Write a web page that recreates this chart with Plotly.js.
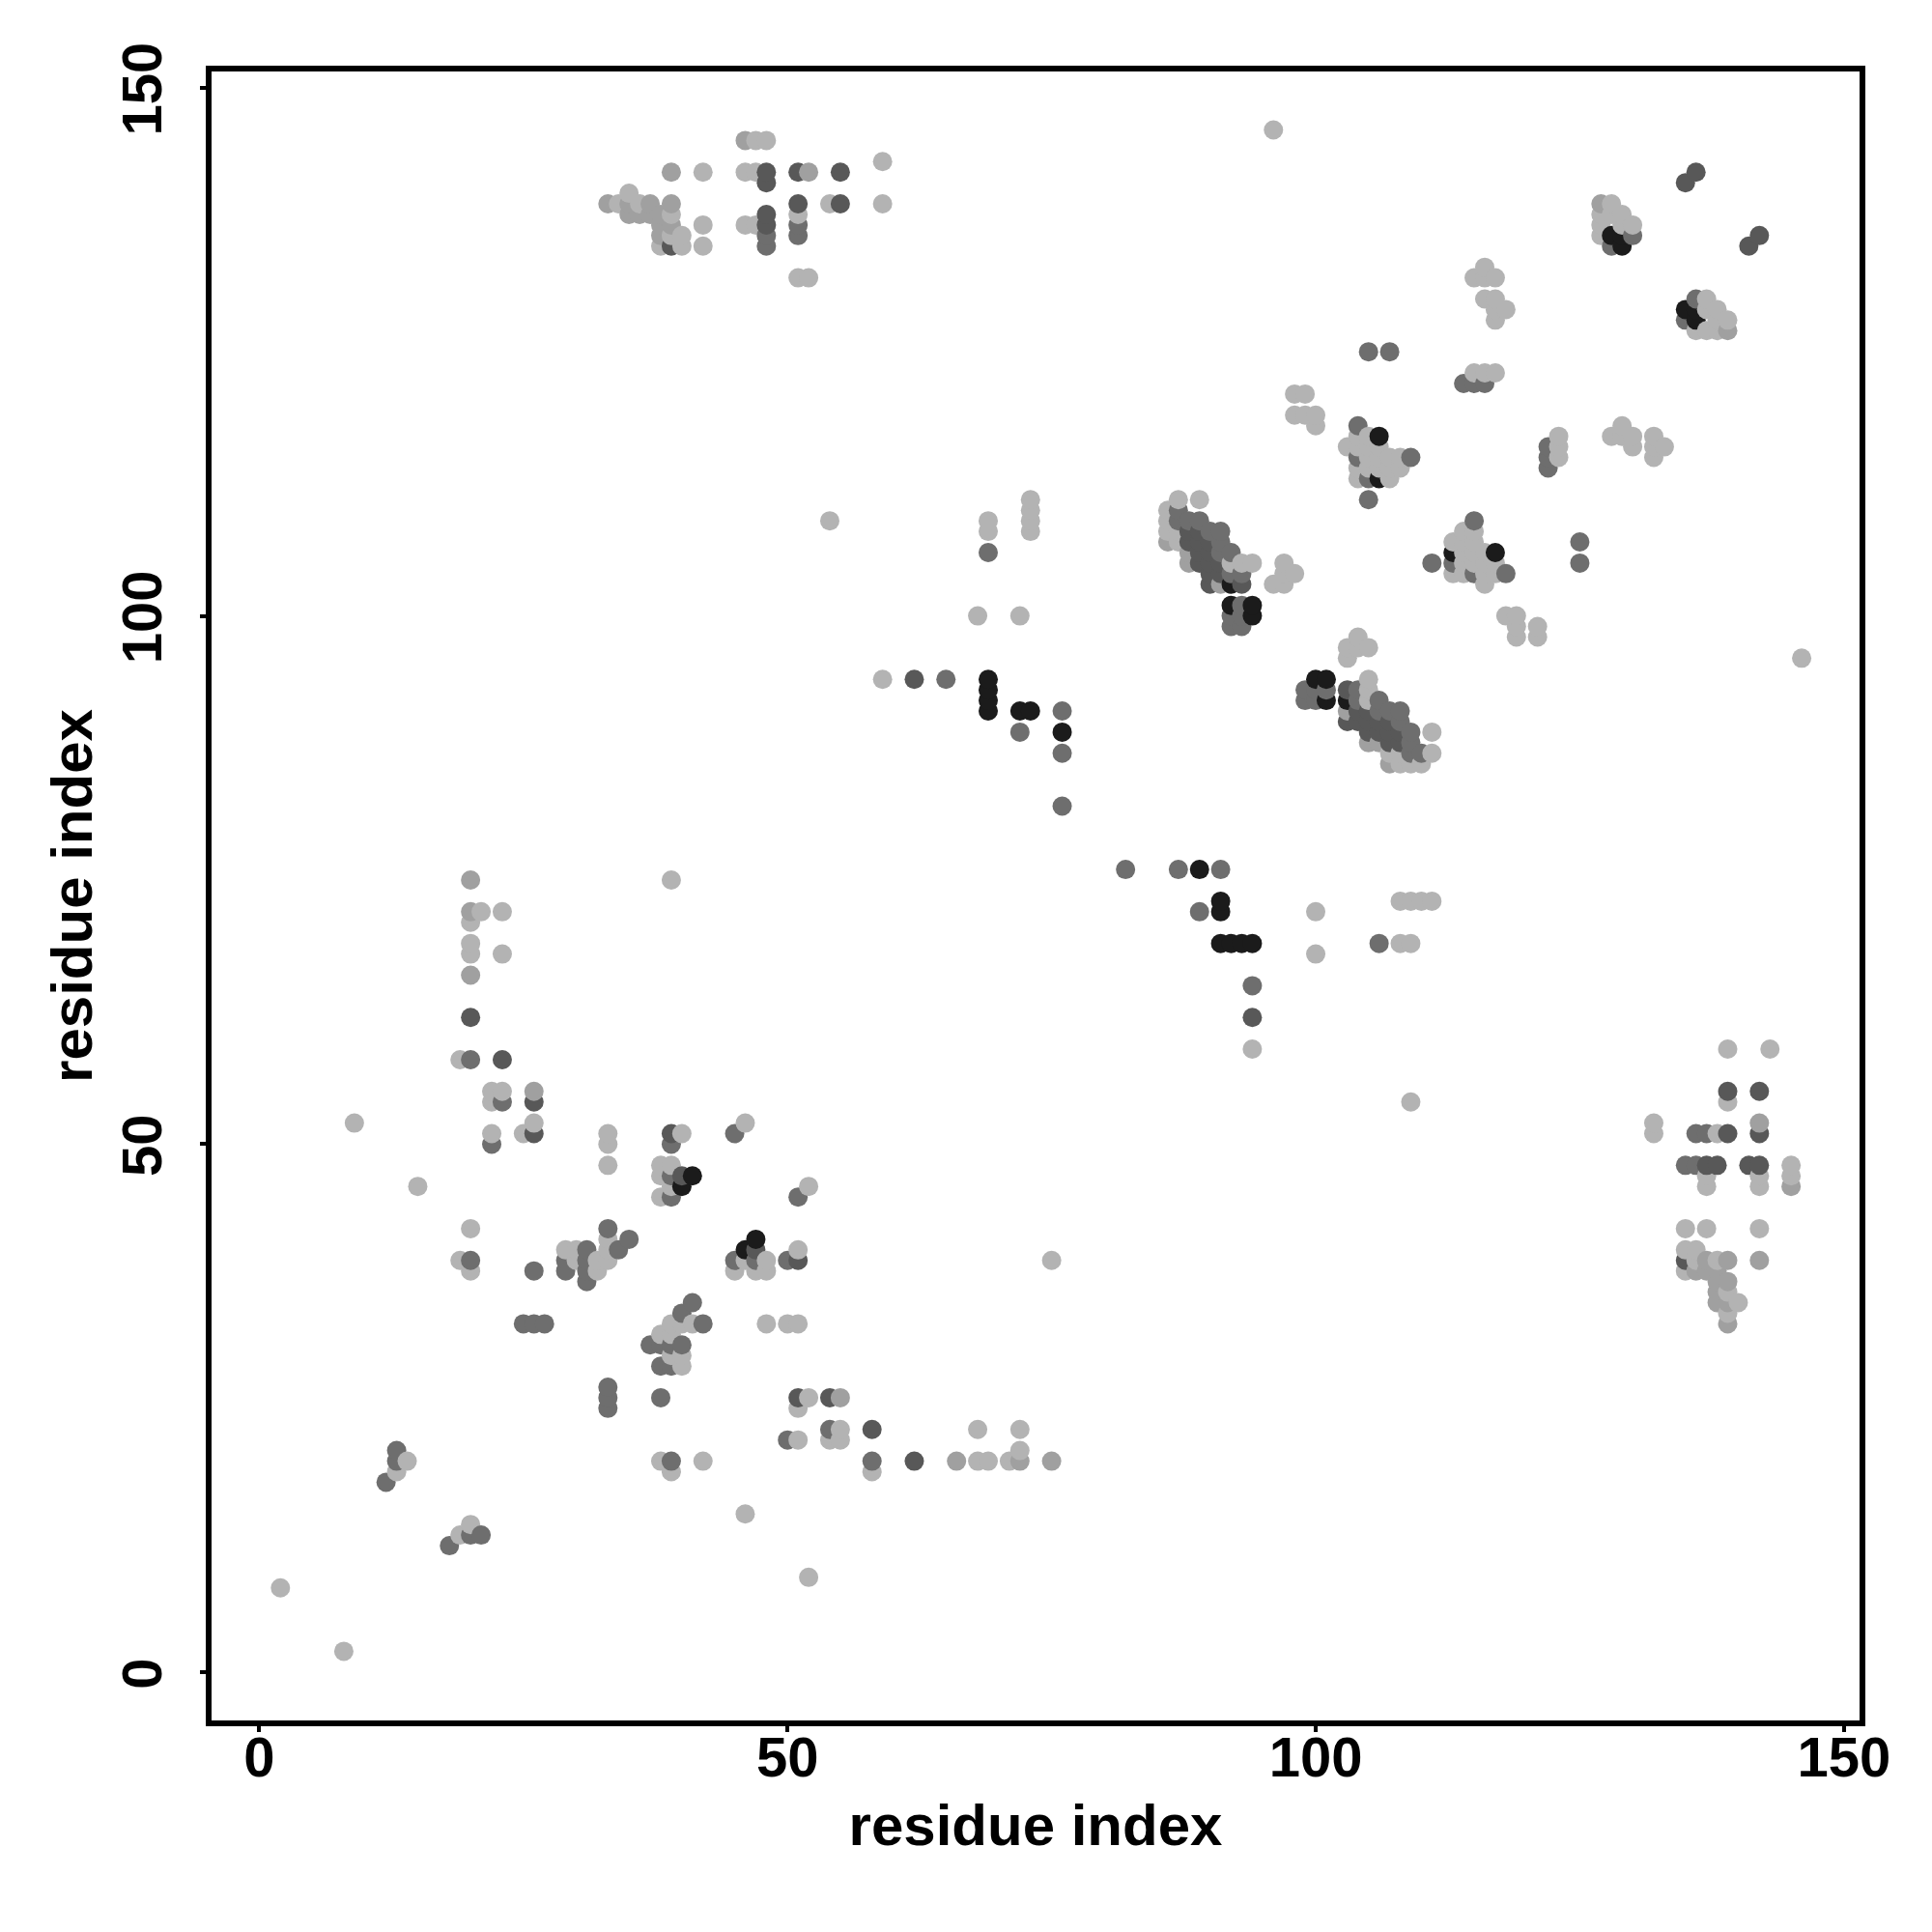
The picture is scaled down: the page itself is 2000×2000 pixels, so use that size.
<!DOCTYPE html>
<html>
<head>
<meta charset="utf-8">
<script src="https://cdn.plot.ly/plotly-3.0.1.min.js"></script>
<style>html,body{margin:0;padding:0;background:#fff}</style>
</head>
<body>
<div id="chart" style="width:2000px;height:2000px"></div>
<script>
// Contact map: residue pairs (i<j), grouped by grey level.
const light_i = [2,9,15,96,54,39,13,14,26,25,22,22,22,23,19,20,20,23,20,21,23,19,20,20,33,33,33,38,39,38,39,38,46,40,29,30,30,32,32,33,33,33,68,72,69,69,73,73,73,73,59,59,59,42,46,47,47,48,35,34,36,39,39,40,38,40,42,42,46,47,51,54,51,52,127,127,127,128,128,129,129,130,98,99,98,99,100,100,104,104,104,104,103,105,105,105,105,106,106,106,107,107,107,108,108,115,116,117,115,116,116,117,116,117,117,118,117,128,129,129,130,130,132,132,132,133,97,97,98,96,97,92,93,94,87,87,86,86,86,87,89,123,123,123];
const light_j = [8,52,46,146,109,75,19,20,52,51,51,54,55,55,58,68,69,68,71,72,72,39,38,42,50,51,48,48,48,47,46,45,52,51,40,40,39,39,38,39,40,41,100,100,108,109,108,109,110,111,94,143,139,142,142,142,145,145,140,139,139,138,136,136,135,135,135,137,137,137,138,139,132,132,136,137,138,138,139,138,137,137,121,121,119,119,119,118,113,114,116,117,116,114,115,116,117,114,115,116,113,114,115,114,115,123,123,123,132,133,132,132,130,130,129,129,128,117,118,117,117,116,117,116,115,116,105,104,104,103,103,105,105,105,107,108,108,109,110,111,111,117,116,115];
const mid_i = [26,20,20,20,33,39,39,46,52,35,37,35,36,37,38,38,39,127,88,88,86,91,38];
const mid_j = [55,66,72,75,139,139,142,145,142,139,139,138,138,138,138,136,137,139,105,106,107,103,137];
const dark_i = [12,13,13,26,20,20,23,22,26,33,34,35,29,29,31,31,31,31,39,39,39,45,25,26,27,65,72,76,76,76,69,48,48,51,51,128,130,105,104,104,105,109,105,107,114,115,116,87,88,89,87,90,91,91,91,92,93,92,92,93,93,93,92,91,91];
const dark_j = [18,20,21,38,39,58,54,50,54,42,40,41,38,39,37,38,39,40,45,47,50,51,33,33,33,94,89,91,87,82,106,135,136,136,137,135,136,111,118,115,113,115,125,125,122,122,122,109,109,109,110,108,108,107,106,106,104,99,100,99,100,101,104,107,108];
const deep_i = [23,26,20,39,40,48,48,48,48,51,51,55,55,39,135,136,62,88,89,88,89,90,89,90,89,90,91,90,91,90,93,26];
const deep_j = [58,51,62,51,47,137,138,141,142,139,142,139,142,135,141,142,94,108,108,107,107,107,106,106,105,105,105,104,104,103,103,54];
const black_i = [41,40,69,69,69,69,72,73,76,128,129,129,106,106,92,92,94,94];
const black_j = [47,46,91,92,93,94,91,91,89,136,136,135,113,117,103,101,100,101];

const xTicks = [0, 50, 100, 150];
const yTicks = [0, 50, 100, 150];
const axisLabel = 'residue index';
const grey = {light:'#b3b3b3', mid:'#a0a0a0', dark:'#6e6e6e', deep:'#585858', black:'#1b1b1b'};

const groups = [[light_i,light_j,grey.light],[mid_i,mid_j,grey.mid],[dark_i,dark_j,grey.dark],[deep_i,deep_j,grey.deep],[black_i,black_j,grey.black]];
const seen = new Map();
for (const [a,b,c] of groups) {
  a.forEach((v,k) => {
    const w = b[k];
    seen.set(v+','+w, [v,w,c]);
    seen.set(w+','+v, [w,v,c]);
  });
}
const pts = [...seen.values()].sort((p,q) => p[0]-q[0] || p[1]-q[1]);

const family = '"Liberation Sans", Arial, sans-serif';
const axisBase = {
  showgrid:false, zeroline:false, showline:true, mirror:true, linewidth:6, linecolor:'#000',
  ticks:'outside', ticklen:6, tickwidth:4, tickcolor:'#000', tickmode:'array',
  tickfont:{family:family, size:58, weight:'bold', color:'#000'}
};
Plotly.newPlot('chart', [{
  type:'scatter', mode:'markers',
  x:pts.map(p=>p[0]), y:pts.map(p=>p[1]),
  marker:{size:20, color:pts.map(p=>p[2]), line:{width:0}},
  hoverinfo:'skip', cliponaxis:true
}], {
  width:2000, height:2000, showlegend:false,
  paper_bgcolor:'#fff', plot_bgcolor:'#fff',
  margin:{l:218.8, r:74.5, t:74.2, b:218.8, pad:0},
  xaxis:Object.assign({}, axisBase, {
    range:[-4.52,151.48], tickvals:xTicks, ticktext:xTicks.map(String), ticklabelstandoff:-24,
    title:{text:axisLabel, standoff:20, font:{family:family,size:60,weight:'bold',color:'#000'}}
  }),
  yaxis:Object.assign({}, axisBase, {
    range:[-4.544,151.53], tickvals:yTicks, ticktext:yTicks.map(String), tickangle:-90,
    ticklabelstandoff:17, ticklabelshift:10,
    title:{text:axisLabel, standoff:1, font:{family:family,size:60,weight:'bold',color:'#000'}}
  })
}, {staticPlot:true, displayModeBar:false});
</script>
</body>
</html>
